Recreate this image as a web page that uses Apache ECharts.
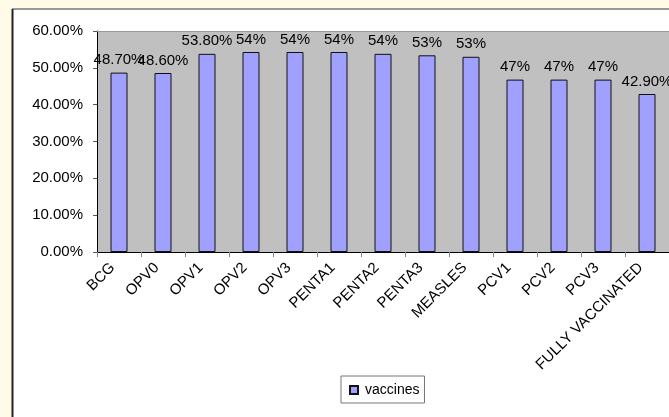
<!DOCTYPE html>
<html>
<head>
<meta charset="utf-8">
<script src="https://cdn.jsdelivr.net/npm/echarts@6/dist/echarts.min.js"></script>
<style>
html, body { margin: 0; padding: 0; background: #fffbe6; }
#chart { width: 669px; height: 417px; }
</style>
</head>
<body>
<div id="chart"></div>
<script>
var categories = ['BCG', 'OPV0', 'OPV1', 'OPV2', 'OPV3', 'PENTA1', 'PENTA2', 'PENTA3',
    'MEASLES', 'PCV1', 'PCV2', 'PCV3', 'FULLY VACCINATED'];
var values = [48.7, 48.6, 53.8, 54.3, 54.3, 54.3, 53.8, 53.4, 53.0, 46.8, 46.8, 46.8, 42.9];
var labelTexts = ['48.70%', '48.60%', '53.80%', '54%', '54%', '54%', '54%', '53%',
    '53%', '47%', '47%', '47%', '42.90%'];
var yTicks = [0, 10, 20, 30, 40, 50, 60];

var chart = echarts.init(document.getElementById('chart'));

var option = {
    animation: false,
    backgroundColor: '#fffbe6',
    textStyle: { fontFamily: 'Liberation Sans, Arial, sans-serif' },
    graphic: [
        // white chart area with its frame
        { type: 'rect', z: -10, shape: { x: 12, y: 9, width: 700, height: 450 },
          style: { fill: '#ffffff' } },
        { type: 'line', z: -9, shape: { x1: 12, y1: 9, x2: 700, y2: 9 },
          style: { stroke: '#999999', lineWidth: 2 } },
        { type: 'line', z: -9, shape: { x1: 12.5, y1: 9, x2: 12.5, y2: 420 },
          style: { stroke: '#222222', lineWidth: 2 } },
        // gray line on top of the plot area
        { type: 'line', z: 10, shape: { x1: 97, y1: 31.5, x2: 669, y2: 31.5 },
          style: { stroke: '#999999', lineWidth: 1 } }
    ],
    grid: {
        left: 97,
        top: 31,
        right: 0,
        bottom: 165,
        show: true,
        backgroundColor: '#c0c0c0',
        borderWidth: 0
    },
    legend: {
        data: ['vaccines'],
        left: 341,
        top: 376,
        padding: [7, 5, 6, 8],
        backgroundColor: '#ffffff',
        borderColor: '#777777',
        borderWidth: 1,
        icon: 'rect',
        itemWidth: 8,
        itemHeight: 8,
        itemGap: 4,
        textStyle: { fontSize: 14, color: '#000', padding: [0, 0, 0, 2] }
    },
    xAxis: {
        type: 'category',
        data: categories,
        axisLine: { lineStyle: { color: '#000', width: 1 } },
        axisTick: { show: true, length: 5, lineStyle: { color: '#888' } },
        axisLabel: {
            interval: 0,
            rotate: 45,
            margin: 7,
            fontSize: 15,
            color: '#000',
            padding: [0, 9, 0, 0]
        }
    },
    yAxis: {
        type: 'value',
        min: yTicks[0],
        max: yTicks[yTicks.length - 1],
        interval: 10,
        splitLine: { show: false },
        axisLine: { show: true, lineStyle: { color: '#000', width: 1 } },
        axisTick: { show: true, length: 4, lineStyle: { color: '#555' } },
        axisLabel: {
            margin: 14,
            fontSize: 15,
            color: '#000',
            formatter: function (v) { return v.toFixed(2) + '%'; }
        }
    },
    series: [{
        name: 'vaccines',
        type: 'bar',
        data: values,
        barWidth: 17,
        itemStyle: { color: '#a0a0ff', borderColor: '#111', borderWidth: 1 },
        label: {
            show: true,
            position: 'top',
            distance: 5,
            fontSize: 15,
            color: '#000',
            formatter: function (p) { return labelTexts[p.dataIndex]; }
        }
    }]
};

chart.setOption(option);
</script>
</body>
</html>
